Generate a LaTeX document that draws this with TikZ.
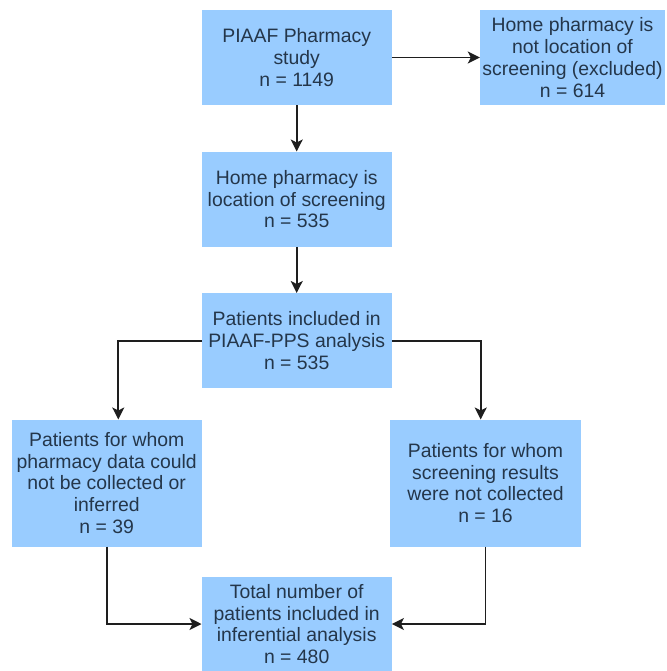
\documentclass[tikz,border=0pt]{standalone}
\usepackage{fontspec}
\setmainfont{Liberation Sans}
\usetikzlibrary{arrows.meta}
\definecolor{boxfill}{HTML}{99CCFF}
\definecolor{boxtext}{HTML}{24364A}
\definecolor{linecol}{HTML}{1E1E1E}
\begin{document}
\begin{tikzpicture}[x=1pt,y=-1pt,
  flowbox/.style={rectangle, fill=boxfill, draw=none, inner sep=0pt, align=center,
    text=boxtext, font=\fontsize{19.4}{21.8}\selectfont},
  conn/.style={draw=linecol, line width=1.7pt, -{Stealth[length=12pt,width=12pt,inset=3pt]}}]
\useasboundingbox (0,0) rectangle (666,671);
\fill[white] (0,0) rectangle (666,671);
\node[flowbox, minimum width=190pt, minimum height=95pt] (study) at (296.7,57.5) {PIAAF Pharmacy\\study\\n = 1149};
\node[flowbox, minimum width=185pt, minimum height=95pt] (excl) at (572.5,57.5) {Home pharmacy is\\not location of\\screening (excluded)\\n = 614};
\node[flowbox, minimum width=190pt, minimum height=95pt] (home) at (296.7,199.2) {Home pharmacy is\\location of screening\\n = 535};
\node[flowbox, minimum width=190pt, minimum height=95pt] (pps) at (296.7,340.7) {Patients included in\\PIAAF-PPS analysis\\n = 535};
\node[flowbox, minimum width=190pt, minimum height=127pt] (left) at (106.7,483) {Patients for whom\\pharmacy data could\\not be collected or\\inferred\\n = 39};
\node[flowbox, minimum width=191pt, minimum height=127pt] (right) at (485.5,483) {Patients for whom\\screening results\\were not collected\\n = 16};
\node[flowbox, minimum width=190pt, minimum height=95pt] (total) at (296.7,624) {Total number of\\patients included in\\inferential analysis\\n = 480};
\coordinate (lt) at (118.3,419.5);
\coordinate (rt) at (480.7,419.5);
\draw[conn] (study) -- (excl);
\draw[conn] (study) -- (home);
\draw[conn] (home) -- (pps);
\draw[conn] (pps.west) -| (lt);
\draw[conn] (pps.east) -| (rt);
\draw[conn] (left.south) |- (total.west);
\draw[conn] (right.south) |- (total.east);
\end{tikzpicture}
\end{document}
